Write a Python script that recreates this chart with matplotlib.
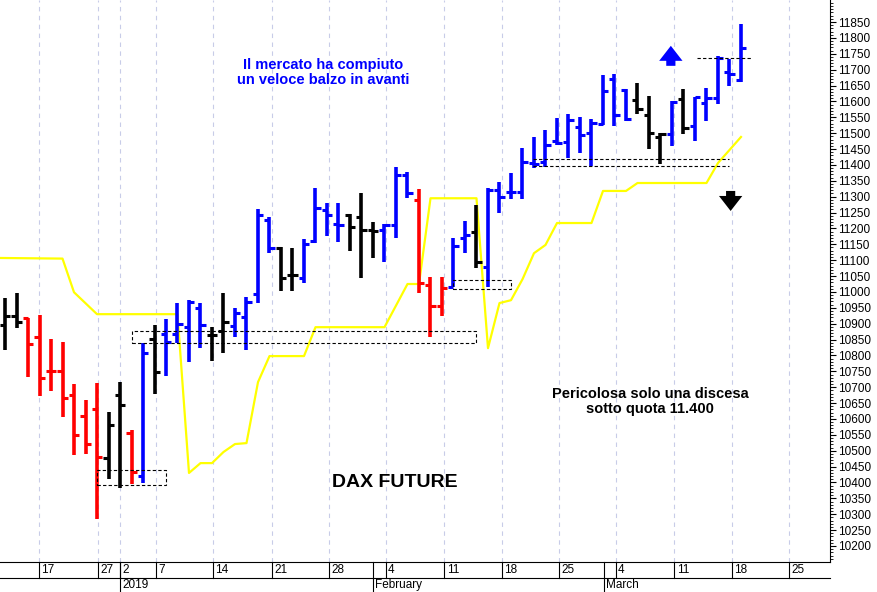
import numpy as np
import matplotlib
matplotlib.use("Agg")
from matplotlib import pyplot as plt
from matplotlib.transforms import blended_transform_factory
from matplotlib.patches import Rectangle

plt.rcParams['font.family'] = ['Liberation Sans', 'DejaVu Sans']

# daily OHLC bars, DAX future (Dec 2018 - Mar 2019)
highs = [10981, 10996, 10918, 10927, 10851, 10842, 10710, 10660, 10713, 10622,
         10716, 10565, 10839, 10896, 10914, 10965, 10974, 10965, 10889, 10996,
         10949, 10984, 11261, 11236, 11141, 11138, 11166, 11327, 11280, 11280,
         11245, 11311, 11220, 11214, 11393, 11377, 11324, 11047, 11047, 11170,
         11223, 11273, 11327, 11346, 11374, 11453, 11488, 11510, 11547, 11560,
         11551, 11544, 11683, 11686, 11639, 11658, 11617, 11500, 11601, 11639,
         11614, 11642, 11743, 11733, 11843]
lows = [10817, 10886, 10732, 10672, 10688, 10606, 10486, 10489, 10285, 10411,
        10382, 10395, 10398, 10678, 10735, 10839, 10779, 10823, 10782, 10807,
        10858, 10817, 10965, 11122, 11003, 11003, 11028, 11154, 11176, 11157,
        11129, 11044, 11107, 11094, 11170, 11295, 10996, 10858, 10924, 11015,
        11122, 11075, 11015, 11248, 11292, 11292, 11390, 11393, 11462, 11421,
        11437, 11396, 11525, 11522, 11538, 11560, 11450, 11403, 11459, 11497,
        11475, 11538, 11592, 11648, 11661]
opens = [10896, 10924, 10918, 10858, 10751, 10751, 10675, 10609, 10631, 10477,
         10675, 10555, 10420, 10851, 10867, 10867, 10889, 10949, 10864, 10877,
         10892, 10921, 10993, 11226, 11138, 11053, 11044, 11160, 11258, 11214,
         11242, 11236, 11195, 11195, 11211, 11368, 11289, 11022, 10955, 11015,
         11170, 11188, 11078, 11321, 11314, 11314, 11406, 11409, 11475, 11472,
         11519, 11500, 11528, 11670, 11636, 11604, 11557, 11488, 11497, 11607,
         11522, 11595, 11610, 11692, 11667]
closes = [10924, 10905, 10836, 10729, 10751, 10666, 10549, 10521, 10480, 10581,
          10644, 10433, 10807, 10748, 10842, 10899, 10968, 10896, 10864, 10905,
          10933, 10968, 11242, 11138, 11044, 11053, 11151, 11264, 11242, 11211,
          11204, 11195, 11192, 11211, 11368, 11311, 11028, 10955, 11012, 11144,
          11179, 11094, 11321, 11299, 11314, 11409, 11403, 11462, 11469, 11541,
          11494, 11532, 11632, 11557, 11544, 11576, 11500, 11497, 11598, 11516,
          11614, 11610, 11736, 11686, 11768]
bar_colors = "kkrrrrrrrkkrbkbbbbkkbbbbkkbbbbkkkbbbrrrbbkbbbbbbbbbbbbbkkkbkbbbbb"

# trailing stop (yellow line), bar index / price
stop_idx = [-0.5, 5, 6, 8, 15, 16, 17, 18, 19, 20, 21, 22, 23, 26, 27, 33, 35, 36,
            37, 41, 42, 43, 44, 45, 46, 47, 48, 51, 52, 54, 55, 61, 62, 63, 64]
stop_val = [11107, 11105, 10999, 10930, 10930, 10430, 10461, 10461, 10496, 10521,
            10524, 10716, 10798, 10798, 10889, 10889, 11025, 11025, 11295, 11295,
            10823, 10965, 10974, 11040, 11122, 11148, 11217, 11217, 11318, 11318,
            11343, 11343, 11406, 11447, 11488]

# dashed support boxes: (start idx, end idx, low, high)
boxes = [(8.0, 14.0, 10392, 10439), (11.0, 41.0, 10839, 10877), (39.0, 44.0, 11009, 11037)]
support_lines = [(45.9, 63.0, 11396), (45.9, 63.0, 11418), (60.2, 65.0, 11736)]

tick_idx = [2.96, 8.09, 10.0, 13.1, 18.1, 23.2, 28.2, 33.1, 38.2, 43.2, 48.2, 53.1, 58.2, 63.2, 68.2]
tick_labels = ["17", "27", "2", "7", "14", "21", "28", "4", "11", "18", "25", "4", "11", "18", "25"]
month_idx = [10.0, 32.0, 52.1]
month_labels = ["2019", "February", "March"]

W, H = 878, 592
fig = plt.figure(figsize=(W / 100, H / 100), dpi=100)
ax = fig.add_axes([0, 30 / H, 830 / W, 562 / H])

ax.set_xlim(-0.435, 71.74)
ax.set_ylim(10149.6, 11919.3)

for t in tick_idx:
    ax.axvline(t, color='#c8cce8', lw=0.8, ls=(0, (4, 4)), zorder=0)

x = np.arange(len(highs))
cmap = {'k': 'black', 'r': '#ff0000', 'b': '#0000ff'}
cols = [cmap[c] for c in bar_colors]
ax.vlines(x, lows, highs, colors=cols, lw=2.6, zorder=3)
ax.hlines(opens, x - 0.45, x, colors=cols, lw=2.2, zorder=3)
ax.hlines(closes, x, x + 0.45, colors=cols, lw=2.2, zorder=3)

ax.plot(stop_idx, stop_val, color='#ffff00', lw=1.6, zorder=2)

for x0, x1, lo, hi in boxes:
    ax.add_patch(Rectangle((x0, lo), x1 - x0, hi - lo, fill=False, ec='black',
                           lw=0.8, ls=(0, (3, 2)), zorder=4))
for x0, x1, y in support_lines:
    ax.plot([x0, x1], [y, y], color='black', lw=0.8, ls=(0, (3, 2)), zorder=4)

arrow_style = 'simple,head_width=1.4,head_length=0.9,tail_width=0.55'
ax.annotate('', xy=(57.9, 11775), xytext=(57.9, 11712),
            arrowprops=dict(arrowstyle=arrow_style, color='#0000ff', lw=0,
                            shrinkA=0, shrinkB=0, mutation_scale=12))
ax.annotate('', xy=(63.1, 11255), xytext=(63.1, 11318),
            arrowprops=dict(arrowstyle=arrow_style, color='black', lw=0,
                            shrinkA=0, shrinkB=0, mutation_scale=12))

ax.text(27.7, 11690, "Il mercato ha compiuto\nun veloce balzo in avanti", color='#0000ff',
        fontsize=10.5, fontweight='bold', ha='center', va='center', linespacing=1.1)
ax.text(56.1, 10655, "Pericolosa solo una discesa\nsotto quota 11.400", color='black',
        fontsize=10.5, fontweight='bold', ha='center', va='center', linespacing=1.1)
ax.text(33.9, 10400, "DAX FUTURE", color='black', fontsize=14, fontweight='bold',
        ha='center', va='center')

# right price axis
ax.yaxis.tick_right()
ax.set_yticks(np.arange(10200, 11851, 50))
ax.set_yticks(np.arange(10160, 11911, 10), minor=True)
ax.tick_params(axis='y', which='major', length=4, labelsize=8.5, pad=2)
ax.tick_params(axis='y', which='minor', length=2)
ax.set_xticks([])
for s in ['left', 'top']:
    ax.spines[s].set_visible(False)
ax.spines['right'].set_linewidth(0.8)
ax.spines['bottom'].set_linewidth(0.8)

# date band below the plot
tr = blended_transform_factory(ax.transData, ax.transAxes)
day_h = 16 / 562
ax.plot([-0.435, 71.74], [-day_h, -day_h], color='black', lw=0.8, transform=tr, clip_on=False)
for t, lab in zip(tick_idx, tick_labels):
    ax.plot([t, t], [0, -day_h], color='black', lw=0.8, transform=tr, clip_on=False)
    ax.text(t + 0.2, -day_h / 2, lab, transform=tr, ha='left', va='center', fontsize=8.5)
for m, lab in zip(month_idx, month_labels):
    ax.plot([m, m], [0, -30 / 562], color='black', lw=0.8, transform=tr, clip_on=False)
    ax.text(m + 0.2, -day_h - 7 / 562, lab, transform=tr, ha='left', va='center', fontsize=8.5)

fig.savefig('out.png', dpi=100)
